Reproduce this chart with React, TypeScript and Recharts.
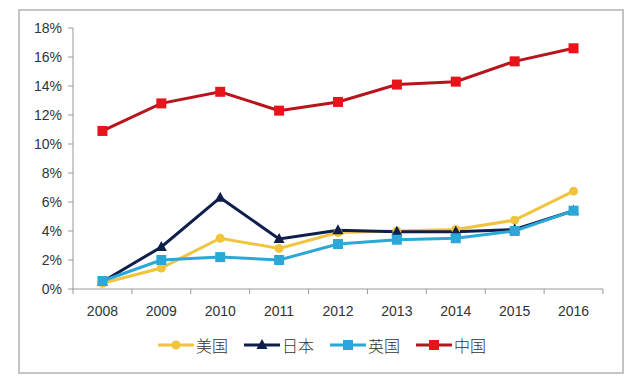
import React from 'react'
import { LineChart, Line, XAxis, YAxis, Legend } from 'recharts'

const years = ['2008', '2009', '2010', '2011', '2012', '2013', '2014', '2015', '2016']
const usa = [0.4, 1.45, 3.5, 2.8, 3.9, 4.0, 4.1, 4.75, 6.75]
const japan = [0.5, 2.9, 6.3, 3.45, 4.05, 3.95, 3.95, 4.1, 5.4]
const uk = [0.55, 2.0, 2.2, 2.0, 3.1, 3.4, 3.5, 4.0, 5.4]
const china = [10.9, 12.8, 13.6, 12.3, 12.9, 14.1, 14.3, 15.7, 16.6]
const yTicks = [0, 2, 4, 6, 8, 10, 12, 14, 16, 18]

const data = years.map((year, i) => ({
  year,
  usa: usa[i],
  japan: japan[i],
  uk: uk[i],
  china: china[i],
}))

const W = 640
const H = 385
const PLOT_LEFT = 73
const PLOT_RIGHT = 603
const BAND = (PLOT_RIGHT - PLOT_LEFT) / years.length

const series = [
  { key: 'usa', name: '美国', line: '#F0C43C', fill: '#F0C43C', shape: 'circle' },
  { key: 'japan', name: '日本', line: '#0F1F4B', fill: '#0F1F4B', shape: 'triangle' },
  { key: 'uk', name: '英国', line: '#2BA8D8', fill: '#2BA8D8', shape: 'square' },
  { key: 'china', name: '中国', line: '#B8141C', fill: '#E8141C', shape: 'square' },
]

const Marker = ({ cx, cy, shape, fill }: any) => {
  if (cx == null || cy == null) return null
  if (shape === 'circle') return <circle cx={cx} cy={cy} r={4.5} fill={fill} />
  if (shape === 'triangle')
    return <polygon points={`${cx},${cy - 6} ${cx - 5.5},${cy + 4} ${cx + 5.5},${cy + 4}`} fill={fill} />
  return <rect x={cx - 5} y={cy - 5} width={10} height={10} fill={fill} />
}

const XTick = ({ x, y, payload, index }: any) => {
  const left = x - BAND / 2
  return (
    <g>
      <line x1={left} y1={y - 8} x2={left} y2={y - 3} stroke="#999" />
      {index === years.length - 1 && (
        <line x1={x + BAND / 2} y1={y - 8} x2={x + BAND / 2} y2={y - 3} stroke="#999" />
      )}
      <text x={x} y={y + 19} textAnchor="middle" fontSize={14} fill="#333" fontFamily="Liberation Sans, Arial, sans-serif">
        {payload.value}
      </text>
    </g>
  )
}

const LegendContent = () => (
  <div style={{ display: 'flex', justifyContent: 'center', gap: 16, fontFamily: '"Noto Sans CJK SC", sans-serif', fontSize: 16, color: '#333', paddingLeft: 4 }}>
    {series.map((s) => (
      <div key={s.key} style={{ display: 'flex', alignItems: 'center' }}>
        <svg width={36} height={14}>
          <line x1={0} y1={7} x2={36} y2={7} stroke={s.line} strokeWidth={3} />
          <Marker cx={18} cy={7} shape={s.shape} fill={s.fill} />
        </svg>
        <span style={{ marginLeft: 2, fontWeight: 300 }}>{s.name}</span>
      </div>
    ))}
  </div>
)

export default function App() {
  return (
    <div style={{ position: 'relative', width: W, height: H, margin: -8, background: '#fff' }}>
      <div
        style={{
          position: 'absolute',
          left: 18,
          top: 9,
          width: 602,
          height: 361,
          border: '2px solid #c4c4c4',
        }}
      />
      <LineChart width={W} height={H} data={data} margin={{ top: 28, right: W - PLOT_RIGHT, bottom: 0, left: 0 }}>
        <XAxis
          dataKey="year"
          scale="band"
          axisLine={{ stroke: '#999' }}
          tickLine={false}
          tick={<XTick />}
          height={72}
          interval={0}
        />
        <YAxis
          width={PLOT_LEFT}
          domain={[0, 18]}
          ticks={yTicks}
          interval={0}
          tickFormatter={(v) => `${v}%`}
          axisLine={{ stroke: '#999' }}
          tickLine={{ stroke: '#999' }}
          tickSize={5}
          tickMargin={6}
          tick={{ fontSize: 14, fill: '#333', fontFamily: 'Liberation Sans, Arial, sans-serif' }}
        />
        <Legend content={<LegendContent />} wrapperStyle={{ position: 'absolute', top: 333, left: 0, width: W }} />
        {series.map((s) => (
          <Line
            key={s.key}
            dataKey={s.key}
            name={s.name}
            stroke={s.line}
            strokeWidth={3}
            dot={(p: any) => <Marker key={`${s.key}-${p.index}`} cx={p.cx} cy={p.cy} shape={s.shape} fill={s.fill} />}
            activeDot={false}
            isAnimationActive={false}
          />
        ))}
      </LineChart>
    </div>
  )
}
